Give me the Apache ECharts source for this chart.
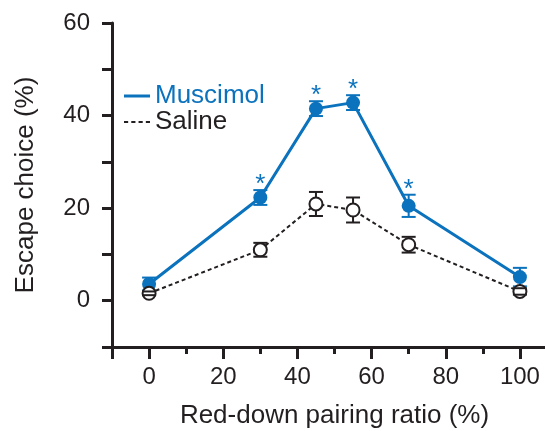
<!DOCTYPE html>
<html>
<head>
  <meta charset="utf-8">
  <title>Escape choice</title>
  <script src="https://cdn.jsdelivr.net/npm/echarts@6/dist/echarts.min.js"></script>
  <style>
    html, body { margin: 0; padding: 0; background: #fff; }
    #chart { width: 545px; height: 431px; }
  </style>
</head>
<body>
<div id="chart"></div>
<script>
  // values
  var ratios = [0, 30, 45, 55, 70, 100];
  var muscimol = [3.6, 22.3, 41.5, 42.8, 20.5, 5.1];
  var muscimolErr = [1.4, 1.6, 1.6, 1.6, 2.4, 2.0];
  var saline = [1.6, 11.0, 20.9, 19.6, 12.1, 2.0];
  var salineErr = [0.4, 1.5, 2.6, 2.7, 1.7, 0.7];
  var starX = [30, 45, 55, 70];

  var blue = '#0b72bd';
  var ink = '#231f20';
  var font = "'Liberation Sans', Arial, Helvetica, sans-serif";

  function pairs(xs, ys) {
    return xs.map(function (x, i) { return [x, ys[i]]; });
  }
  function errData(xs, ys, es) {
    return xs.map(function (x, i) { return [x, ys[i], es[i]]; });
  }

  // error bar: vertical line with caps, gap left where the marker sits
  function errRender(color, gap) {
    return function (params, api) {
      var x = api.value(0), m = api.value(1), e = api.value(2);
      var c = api.coord([x, m]);
      var t = api.coord([x, m + e]);
      var b = api.coord([x, m - e]);
      var w = 7;
      var st = { stroke: color, lineWidth: 2 };
      var kids = [];
      if (t[1] < c[1] - gap) kids.push({ type: 'line', shape: { x1: c[0], y1: t[1], x2: c[0], y2: c[1] - gap }, style: st });
      if (b[1] > c[1] + gap) kids.push({ type: 'line', shape: { x1: c[0], y1: c[1] + gap, x2: c[0], y2: b[1] }, style: st });
      kids.push({ type: 'line', shape: { x1: c[0] - w, y1: t[1], x2: c[0] + w, y2: t[1] }, style: st });
      kids.push({ type: 'line', shape: { x1: c[0] - w, y1: b[1], x2: c[0] + w, y2: b[1] }, style: st });
      return { type: 'group', children: kids };
    };
  }

  var starData = starX.map(function (x) {
    var i = ratios.indexOf(x);
    return [x, muscimol[i] + muscimolErr[i]];
  });

  var tickFmt = function (v) { return (v >= 0 && v % 20 === 0) ? String(v) : ''; };

  var chart = echarts.init(document.getElementById('chart'));
  chart.setOption({
    backgroundColor: '#fff',
    animation: false,
    grid: { left: 112, right: -12, top: 23, bottom: 84, outerBoundsMode: 'none' },
    legend: {
      orient: 'vertical',
      left: 119,
      top: 78,
      itemWidth: 26,
      itemHeight: 3,
      itemGap: 0,
      textStyle: { fontFamily: font, fontSize: 26, lineHeight: 26 },
      data: [
        { name: 'Muscimol', icon: 'path://M0 0H26V3H0Z', itemStyle: { color: blue }, textStyle: { color: blue } },
        { name: 'Saline', icon: 'path://M0 0H4V2H0Z M7 0H11V2H7Z M14 0H18V2H14Z M21 0H25V2H21Z', itemStyle: { color: ink }, textStyle: { color: ink } }
      ]
    },
    xAxis: [{
      type: 'value',
      min: -10, max: 110, interval: 10,
      splitLine: { show: false },
      axisLine: { show: true, onZero: false, lineStyle: { color: ink, width: 3 } },
      axisTick: { show: true, length: 7, lineStyle: { color: ink, width: 3 } },
      axisLabel: { margin: 18, color: ink, fontFamily: font, fontSize: 24, formatter: tickFmt },
      name: 'Red-down pairing ratio (%)',
      nameLocation: 'middle',
      nameGap: 56,
      nameTextStyle: { color: ink, fontFamily: font, fontSize: 26 }
    }, {
      type: 'value',
      gridIndex: 0,
      position: 'bottom',
      min: -10, max: 110, interval: 10,
      splitLine: { show: false },
      axisLine: { show: false, onZero: false },
      axisTick: { show: true, length: 12, customValues: [-10, 0, 20, 40, 60, 80, 100], lineStyle: { color: ink, width: 3 } },
      axisLabel: { show: false }
    }],
    yAxis: {
      type: 'value',
      min: -10, max: 60, interval: 10,
      splitLine: { show: false },
      axisLine: { show: true, onZero: false, lineStyle: { color: ink, width: 3 } },
      axisTick: { show: true, length: 10, lineStyle: { color: ink, width: 3 } },
      axisLabel: { margin: 22, color: ink, fontFamily: font, fontSize: 24, formatter: tickFmt },
      name: 'Escape choice (%)',
      nameLocation: 'middle',
      nameGap: 73,
      nameTextStyle: { color: ink, fontFamily: font, fontSize: 26 }
    },
    series: [
      {
        name: 'Muscimol', type: 'line', symbol: 'none', z: 2,
        lineStyle: { color: blue, width: 3 }, itemStyle: { color: blue },
        data: pairs(ratios, muscimol)
      },
      {
        name: 'Muscimol err', type: 'custom', z: 3,
        renderItem: errRender(blue, 0),
        data: errData(ratios, muscimol, muscimolErr)
      },
      {
        name: 'Muscimol pts', type: 'scatter', z: 4,
        symbol: 'circle', symbolSize: 14,
        itemStyle: { color: blue, opacity: 1 },
        data: pairs(ratios, muscimol)
      },
      {
        name: 'Saline', type: 'line', symbol: 'none', z: 5,
        lineStyle: { color: ink, width: 2, type: [4, 3] }, itemStyle: { color: ink },
        data: pairs(ratios, saline)
      },
      {
        name: 'Saline pts', type: 'scatter', z: 6,
        symbol: 'circle', symbolSize: 13,
        itemStyle: { color: '#fff', borderColor: ink, borderWidth: 2, opacity: 1 },
        data: pairs(ratios, saline)
      },
      {
        name: 'Saline err', type: 'custom', z: 7,
        renderItem: errRender(ink, 7),
        data: errData(ratios, saline, salineErr)
      },
      {
        name: 'stars', type: 'custom', z: 8,
        renderItem: function (params, api) {
          var p = api.coord([api.value(0), api.value(1)]);
          return {
            type: 'text',
            x: p[0], y: p[1] + 8,
            style: { text: '*', fill: blue, fontSize: 26, fontFamily: font, align: 'center', verticalAlign: 'bottom' }
          };
        },
        data: starData
      }
    ]
  });
</script>
</body>
</html>
